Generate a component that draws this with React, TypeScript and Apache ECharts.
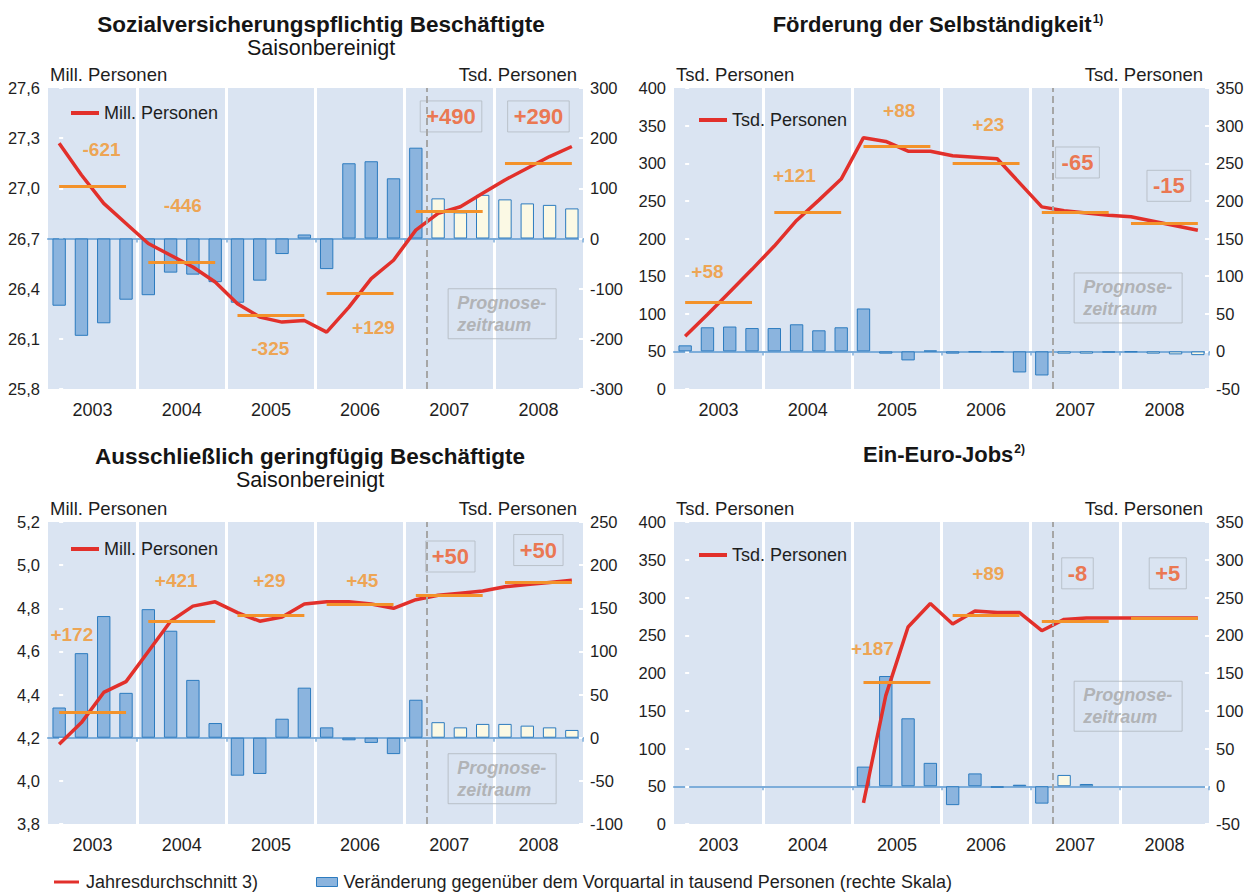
import { useEffect, useRef } from "react";
import * as echarts from "echarts";

const QUARTERS = [
  "2003 Q1", "2003 Q2", "2003 Q3", "2003 Q4",
  "2004 Q1", "2004 Q2", "2004 Q3", "2004 Q4",
  "2005 Q1", "2005 Q2", "2005 Q3", "2005 Q4",
  "2006 Q1", "2006 Q2", "2006 Q3", "2006 Q4",
  "2007 Q1", "2007 Q2", "2007 Q3", "2007 Q4",
  "2008 Q1", "2008 Q2", "2008 Q3", "2008 Q4",
];
const YEARS = ["2003", "2004", "2005", "2006", "2007", "2008"];
const FORECAST_FROM = 17; // index of first forecast quarter (2007 Q2)

// Panel 1: Sozialversicherungspflichtig Beschäftigte
const P1_LINE = [27.27, 27.08, 26.91, 26.79, 26.67, 26.6, 26.53, 26.44, 26.31, 26.23, 26.2, 26.21, 26.14, 26.29, 26.46, 26.57, 26.75, 26.85, 26.89, 26.97, 27.05, 27.12, 27.19, 27.25];
const P1_BARS = [-134, -194, -169, -122, -113, -68, -72, -87, -128, -84, -31, 8, -61, 150, 154, 120, 181, 80, 52, 87, 78, 70, 67, 60];
const P1_AVG = [27.01, 26.56, 26.24, 26.37, 26.86, 27.15];
const P1_LABELS = ["-621", "-446", "-325", "+129", "+490", "+290"];
const P1_LABEL_X = [1.9, 5.55, 9.47, 14.1, 17.58, 21.5];
const P1_LABEL_Y = [27.23, 26.9, 26.04, 26.17, 27.43, 27.43];
const P1_BOXED = [false, false, false, false, true, true];
const P1_PROG = [17.45, 26.25];

// Panel 2: Förderung der Selbständigkeit
const P2_LINE = [70, 99, 129, 159, 190, 224, 251, 279, 334, 329, 316, 316, 310, 308, 306, 274, 242, 237, 234, 231, 229, 223, 217, 211];
const P2_BARS = [8, 32, 33, 31, 31, 36, 28, 32, 57, -3, -12, 1, -3, -1, -1, -28, -32, -3, -3, -1.5, -1, -3, -4, -5];
const P2_AVG = [115, 235, 323, 300, 235, 220];
const P2_LABELS = ["+58", "+121", "+88", "+23", "-65", "-15"];
const P2_LABEL_X = [1.0, 4.9, 9.6, 13.6, 17.6, 21.7];
const P2_LABEL_Y = [156, 284, 370, 351, 301, 270];
const P2_BOXED = [false, false, false, false, true, true];
const P2_PROG = [17.45, 121];

// Panel 3: Ausschließlich geringfügig Beschäftigte
const P3_LINE = [4.17, 4.27, 4.41, 4.46, 4.6, 4.74, 4.81, 4.83, 4.78, 4.74, 4.76, 4.82, 4.83, 4.83, 4.82, 4.8, 4.84, 4.86, 4.87, 4.88, 4.9, 4.91, 4.92, 4.93];
const P3_BARS = [35, 98, 141, 52, 149, 124, 67, 17, -44, -42, 22, 58, 12, -3, -6, -19, 44, 18, 12, 16, 16, 14, 12, 9];
const P3_AVG = [4.32, 4.74, 4.77, 4.82, 4.86, 4.92];
const P3_LABELS = ["+172", "+421", "+29", "+45", "+50", "+50"];
const P3_LABEL_X = [0.57, 5.25, 9.43, 13.6, 17.55, 21.5];
const P3_LABEL_Y = [4.68, 4.93, 4.93, 4.93, 5.04, 5.07];
const P3_BOXED = [false, false, false, false, true, true];
const P3_PROG = [17.45, 4.01];

// Panel 4: Ein-Euro-Jobs
const P4_LINE = [null, null, null, null, null, null, null, null, 28, 170, 261, 292, 265, 282, 280, 280, 256, 271, 273, 273, 273, 273, 273, 273];
const P4_BARS = [null, null, null, null, null, null, null, null, 26, 146, 90, 31, -25, 17, -2, 2, -23, 15, 3, null, null, null, null, null];
const P4_AVG = [null, null, 188, 276, 268, 273];
const P4_LABELS = ["+187", "+89", "-8", "+5"];
const P4_LABEL_X = [8.4, 13.6, 17.6, 21.65];
const P4_LABEL_Y = [233, 332, 332, 332];
const P4_BOXED = [false, false, true, true];
const P4_PROG = [17.45, 156];

const BAR_NAME = "Veränderung gegenüber dem Vorquartal in tausend Personen (rechte Skala)";
const AVG_NAME = "Jahresdurchschnitt 3)";

const FONT = '"Liberation Sans", Arial, Helvetica, sans-serif';
const TXT = "#1e1e1e";
const BG = "#DAE4F2";
const RED = "#E2302B";
const ORANGE = "#F3942A";
const ORANGE_LINE = "#F3922A";
const BOX_RED = "#EF5A27";
const BAR = "#8BB4DE";
const BAR_BORDER = "#2C7BBF";
const FORECAST = "#FBF9E4";
const ZERO = "#7DADDA";
const GREY = "#A6A6A6";

type Panel = {
  left: number; top: number; height: number;
  line: (number | null)[]; bars: (number | null)[]; avg: (number | null)[];
  labels: string[]; lx: number[]; ly: number[]; boxed: boolean[]; prog: number[];
  lMin: number; lMax: number; lInt: number; lDec: number;
  rMin: number; rMax: number; rInt: number;
  lName: string; rName: string; seriesName: string;
  legendLeft: number; legendTop: number;
};

const PANELS: Panel[] = [
  { left: 48, top: 88, height: 301, line: P1_LINE, bars: P1_BARS, avg: P1_AVG, labels: P1_LABELS, lx: P1_LABEL_X, ly: P1_LABEL_Y, boxed: P1_BOXED, prog: P1_PROG,
    lMin: 25.8, lMax: 27.6, lInt: 0.3, lDec: 1, rMin: -300, rMax: 300, rInt: 100, lName: "Mill. Personen", rName: "Tsd. Personen", seriesName: "Mill. Personen", legendLeft: 66, legendTop: 99 },
  { left: 674, top: 88, height: 301, line: P2_LINE, bars: P2_BARS, avg: P2_AVG, labels: P2_LABELS, lx: P2_LABEL_X, ly: P2_LABEL_Y, boxed: P2_BOXED, prog: P2_PROG,
    lMin: 0, lMax: 400, lInt: 50, lDec: 0, rMin: -50, rMax: 350, rInt: 50, lName: "Tsd. Personen", rName: "Tsd. Personen", seriesName: "Tsd. Personen", legendLeft: 694, legendTop: 106 },
  { left: 48, top: 522, height: 302, line: P3_LINE, bars: P3_BARS, avg: P3_AVG, labels: P3_LABELS, lx: P3_LABEL_X, ly: P3_LABEL_Y, boxed: P3_BOXED, prog: P3_PROG,
    lMin: 3.8, lMax: 5.2, lInt: 0.2, lDec: 1, rMin: -100, rMax: 250, rInt: 50, lName: "Mill. Personen", rName: "Tsd. Personen", seriesName: "Mill. Personen", legendLeft: 66, legendTop: 535 },
  { left: 674, top: 522, height: 302, line: P4_LINE, bars: P4_BARS, avg: P4_AVG, labels: P4_LABELS, lx: P4_LABEL_X, ly: P4_LABEL_Y, boxed: P4_BOXED, prog: P4_PROG,
    lMin: 0, lMax: 400, lInt: 50, lDec: 0, rMin: -50, rMax: 350, rInt: 50, lName: "Tsd. Personen", rName: "Tsd. Personen", seriesName: "Tsd. Personen", legendLeft: 694, legendTop: 541 },
];

const PLAIN_LABEL = { color: ORANGE, fontSize: 19, fontWeight: "bold", fontFamily: FONT };
const BOXED_LABEL = {
  color: BOX_RED, fontSize: 22, fontWeight: "bold", fontFamily: FONT,
  borderColor: "#B2B9C1", borderWidth: 1, padding: [5, 6, 4, 6],
};
const PROG_LABEL = {
  color: GREY, fontSize: 18, fontWeight: "bold", fontStyle: "italic", fontFamily: FONT,
  lineHeight: 22, align: "left", borderColor: "#B0B6BD", borderWidth: 1, padding: [3, 10, 3, 9],
};
const UNIT_STYLE = { fontSize: 18.5, fontWeight: "normal", color: TXT, fontFamily: FONT };

function buildOption() {
  const grid: any[] = [];
  const xAxis: any[] = [];
  const yAxis: any[] = [];
  const series: any[] = [];
  const legend: any[] = [];
  const unitTitles: any[] = [];

  PANELS.forEach((p, g) => {
    grid.push({
      left: p.left, top: p.top, width: 535, height: p.height,
      show: true, backgroundColor: BG, borderWidth: 0, containLabel: false, outerBoundsMode: "none",
    });
    xAxis.push({
      type: "category", gridIndex: g, data: QUARTERS, position: "bottom",
      axisLine: { show: true, onZero: true, onZeroAxisIndex: 2 * g + 1, lineStyle: { color: ZERO, width: 2 } },
      axisTick: { show: true, interval: (i: number) => i > 0 && i % 4 === 0, length: 4, lineStyle: { color: ZERO, width: 1.5 } },
      axisLabel: { show: false }, splitLine: { show: false },
    });
    xAxis.push({
      type: "category", gridIndex: g, data: YEARS, position: "bottom",
      axisLine: { show: false, onZero: false }, axisTick: { show: false },
      axisLabel: { show: true, interval: 0, fontSize: 18, color: TXT, fontFamily: FONT, margin: 12 },
      splitLine: { show: true, showMinLine: false, showMaxLine: false, lineStyle: { color: "#ffffff", width: 3 } },
    });
    xAxis.push({ type: "value", gridIndex: g, min: -0.5, max: 23.5, show: false, position: "top" });

    // left unit label ("Mill. Personen" / "Tsd. Personen") above the left scale
    unitTitles.push({ text: p.lName, left: p.left + 2, top: p.top - 23, padding: 0, textStyle: UNIT_STYLE });

    yAxis.push({
      type: "value", gridIndex: g, position: "left", min: p.lMin, max: p.lMax, interval: p.lInt,
      axisLine: { show: false },
      axisTick: { show: true, inside: true, length: 4, lineStyle: { color: "#ffffff", width: 2 } },
      axisLabel: {
        fontSize: 16.5, color: TXT, fontFamily: FONT, margin: 8,
        formatter: (v: number) => v.toFixed(p.lDec).replace(".", ","),
      },
      splitLine: { show: false },
    });
    yAxis.push({
      type: "value", gridIndex: g, position: "right", min: p.rMin, max: p.rMax, interval: p.rInt,
      name: p.rName, nameLocation: "end", nameGap: 4, nameMoveOverlap: false,
      nameTextStyle: { align: "right", verticalAlign: "bottom", fontSize: 18.5, color: TXT, fontFamily: FONT, padding: [0, 6, 0, 0] },
      axisLine: { show: false },
      axisTick: { show: true, inside: true, length: 4, lineStyle: { color: "#ffffff", width: 2 } },
      axisLabel: { fontSize: 16.5, color: TXT, fontFamily: FONT, margin: 7, formatter: (v: number) => String(Math.round(v)) },
      splitLine: { show: false },
    });

    series.push({
      type: "bar", name: BAR_NAME, xAxisIndex: 3 * g, yAxisIndex: 2 * g + 1, barWidth: "60%", z: 2, silent: true,
      itemStyle: { color: BAR, borderColor: BAR_BORDER, borderWidth: 1 },
      data: p.bars.map((v, i) =>
        v == null ? "-" : i >= FORECAST_FROM ? { value: v, itemStyle: { color: FORECAST, borderColor: BAR_BORDER, borderWidth: 1 } } : v
      ),
    });

    const markData: any[] = [
      { xAxis: 16.5, lineStyle: { color: GREY, width: 2, type: [7, 4] } },
    ];
    p.avg.forEach((a, i) => {
      if (a == null) return;
      markData.push([
        { coord: [i * 4, a], lineStyle: { color: ORANGE_LINE, width: 3, type: "solid" } },
        { coord: [i * 4 + 3, a] },
      ]);
    });

    series.push({
      type: "scatter", name: "annot" + g, xAxisIndex: 3 * g + 2, yAxisIndex: 2 * g, z: 3, silent: true,
      symbolSize: 1, itemStyle: { color: "rgba(0,0,0,0)" },
      data: [
        ...p.labels.map((t, i) => ({
          value: [p.lx[i], p.ly[i]],
          label: { show: true, position: "inside", formatter: t, ...(p.boxed[i] ? BOXED_LABEL : PLAIN_LABEL) },
        })),
        { value: p.prog, label: { show: true, position: "inside", formatter: "Prognose-\nzeitraum", ...PROG_LABEL } },
      ],
      markLine: { symbol: ["none", "none"], silent: true, animation: false, label: { show: false }, data: markData },
    });

    series.push({
      type: "line", name: p.seriesName, xAxisIndex: 3 * g, yAxisIndex: 2 * g, z: 4, silent: true,
      symbol: "none", connectNulls: false,
      lineStyle: { color: RED, width: 3.5 }, itemStyle: { color: RED },
      data: p.line.map((v) => (v == null ? "-" : v)),
    });

    legend.push({
      data: [{ name: p.seriesName, icon: "rect" }], left: p.legendLeft, top: p.legendTop, selectedMode: false,
      itemWidth: 28, itemHeight: 4, itemGap: 10,
      textStyle: { fontSize: 18, color: TXT, fontFamily: FONT },
    });
  });

  series.push({
    type: "line", name: AVG_NAME, xAxisIndex: 2, yAxisIndex: 0, data: [], symbol: "none",
    lineStyle: { color: RED, width: 3 }, itemStyle: { color: RED },
  });

  legend.push({
    data: [{ name: AVG_NAME, icon: "rect" }], left: 49, top: 868, selectedMode: false,
    itemWidth: 25, itemHeight: 3,
    textStyle: { fontSize: 18, color: TXT, fontFamily: FONT, padding: [0, 0, 0, 2] },
  });
  legend.push({
    data: [{ name: BAR_NAME, icon: "rect" }], left: 311, top: 868, selectedMode: false,
    itemWidth: 21, itemHeight: 9,
    itemStyle: { color: BAR, borderColor: BAR_BORDER, borderWidth: 1 },
    textStyle: { fontSize: 18, color: TXT, fontFamily: FONT, padding: [0, 0, 0, 1] },
  });

  const titleStyle = { fontSize: 22.5, fontWeight: "bold", color: "#151515", fontFamily: FONT };
  const subStyle = { fontSize: 21.5, color: "#151515", fontFamily: FONT };
  const supRich = {
    m: { fontSize: 22, fontWeight: "bold", color: "#151515", fontFamily: FONT, lineHeight: 24 },
    s: { fontSize: 12, fontWeight: "bold", color: "#151515", fontFamily: FONT, verticalAlign: "top", padding: [1, 0, 0, 1] },
  };

  const title = [
    { text: "Sozialversicherungspflichtig Beschäftigte", subtext: "Saisonbereinigt", left: 316, top: 8, textAlign: "center", itemGap: 1, textStyle: titleStyle, subtextStyle: subStyle },
    { text: "{m|Förderung der Selbständigkeit}{s|1)}", left: 933, top: 7, textAlign: "center", textStyle: { ...titleStyle, rich: supRich } },
    { text: "Ausschließlich geringfügig Beschäftigte", subtext: "Saisonbereinigt", left: 305, top: 440, textAlign: "center", itemGap: 1, textStyle: titleStyle, subtextStyle: subStyle },
    { text: "{m|Ein-Euro-Jobs}{s|2)}", left: 939, top: 437, textAlign: "center", textStyle: { ...titleStyle, rich: supRich } },
    ...unitTitles,
  ];

  return {
    animation: false,
    backgroundColor: "#ffffff",
    textStyle: { fontFamily: FONT },
    title, grid, xAxis, yAxis, series, legend,
  };
}

export default function App() {
  const ref = useRef<HTMLDivElement>(null);
  useEffect(() => {
    if (!ref.current) return;
    const chart = echarts.init(ref.current, null, { renderer: "svg" });
    chart.setOption(buildOption() as any);
    return () => chart.dispose();
  }, []);
  return <div ref={ref} style={{ position: "absolute", left: 0, top: 0, width: 1255, height: 894 }} />;
}
